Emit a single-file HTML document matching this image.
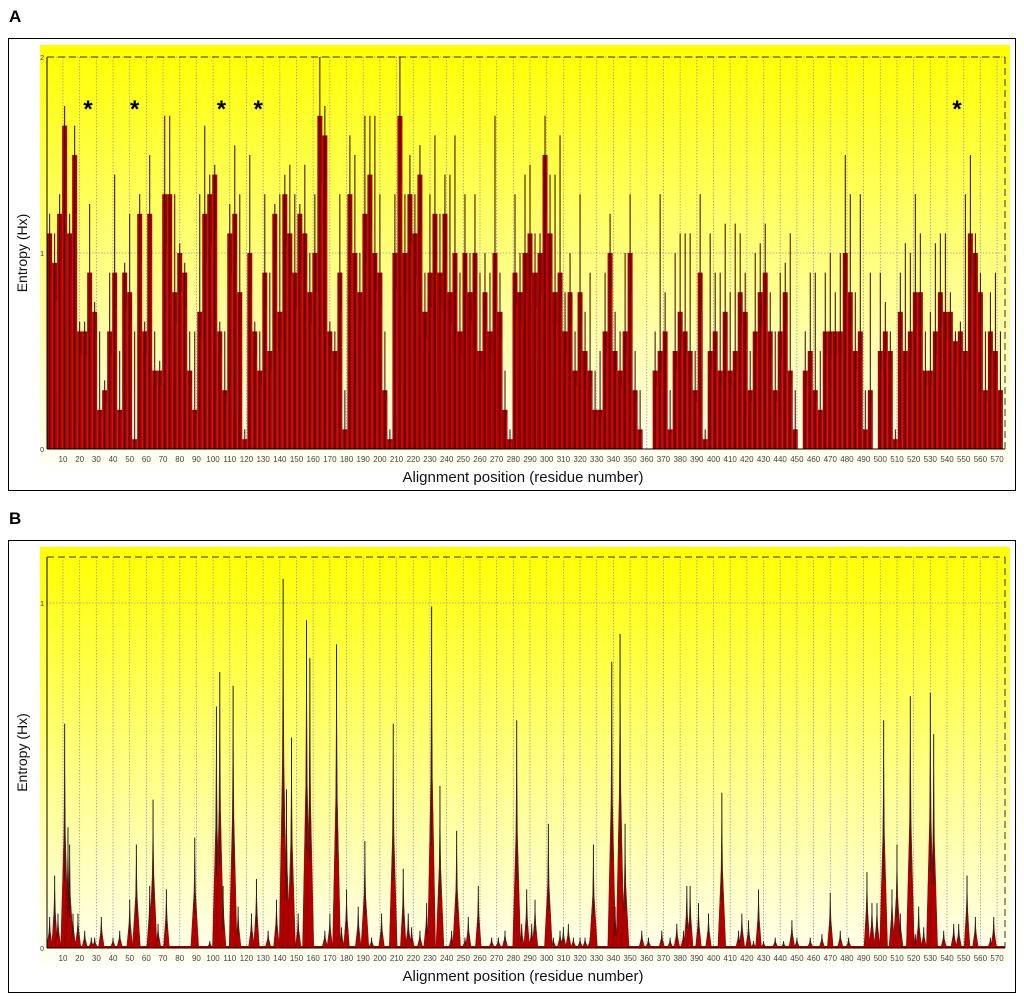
<!DOCTYPE html>
<html><head><meta charset="utf-8"><style>
html,body{margin:0;padding:0;background:#fff;}
svg{display:block;font-family:"Liberation Sans",sans-serif;}
</style></head><body>
<svg id="chart" width="1024" height="999" viewBox="0 0 1024 999">
<defs>
<linearGradient id="bg" x1="0" y1="0" x2="0" y2="1">
<stop offset="0" stop-color="#ffff00"/><stop offset="0.45" stop-color="#ffff70"/><stop offset="1" stop-color="#fffff4"/>
</linearGradient>
</defs>
</svg>
<script>
// Panel A: values per group of 3 residues (mean fill, peak spike)
const meanA=[1.1,0.95,1.2,1.65,1.1,1.5,0.6,0.6,0.9,0.7,0.2,0.3,0.6,0.9,0.2,0.9,0.8,0.05,1.2,0.6,1.2,0.4,0.4,1.3,1.3,0.8,1.0,0.9,0.4,0.2,0.7,1.2,1.3,1.4,0.6,0.3,1.1,1.2,0.8,0.05,1.0,0.6,0.4,0.9,0.5,1.2,0.7,1.3,1.1,0.9,1.2,1.1,0.8,1.0,1.7,1.6,0.6,0.5,0.9,0.1,1.3,1.0,0.8,1.2,1.4,1.0,0.9,0.3,0.05,1.0,1.7,1.0,1.3,1.1,1.4,0.7,0.9,1.2,0.9,1.2,0.8,1.0,0.6,1.0,0.8,1.0,0.5,0.8,0.6,1.0,0.7,0.2,0.05,0.9,0.8,1.0,1.1,0.9,1.0,1.5,1.1,0.8,0.9,0.6,0.8,0.4,0.8,0.5,0.4,0.2,0.2,0.6,1.0,0.5,0.4,0.6,1.0,0.3,0.1,0,0,0.4,0.5,0.6,0.1,0.5,0.7,0.6,0.5,0.3,0.9,0.05,0.5,0.6,0.4,0.7,0.4,0.5,0.8,0.7,0.3,0.6,0.8,0.9,0.6,0.3,0.6,0.8,0.4,0.1,0,0.4,0.5,0.3,0.2,0.6,0.6,0.6,0.6,1.0,0.8,0.5,0.6,0.1,0.3,0,0.5,0.6,0.5,0.05,0.7,0.5,0.6,0.8,0.8,0.4,0.4,0.6,0.8,0.7,0.7,0.55,0.6,0.5,1.1,1.0,0.8,0.3,0.6,0.5,0.3];
const peakA=[1.2,1.1,1.3,1.75,1.2,1.65,0.65,0.65,1.25,0.75,0.6,0.35,0.9,1.4,0.5,0.95,1.2,0.6,1.3,0.65,1.5,0.6,0.45,1.7,1.7,1.3,1.05,0.95,0.6,0.6,1.3,1.65,1.4,1.45,0.65,0.6,1.25,1.55,1.3,0.1,1.5,0.65,0.6,1.3,0.9,1.25,1.3,1.4,1.45,1.3,1.25,1.45,1.0,1.3,2.0,1.75,0.65,0.6,1.3,0.3,1.6,1.5,1.0,1.7,1.7,1.7,1.3,0.6,0.1,1.3,2.0,1.3,1.5,1.3,1.55,0.9,1.3,1.6,1.2,1.4,1.4,1.6,0.9,1.3,1.0,1.3,0.9,1.0,0.9,1.7,0.9,0.4,0.1,1.3,1.0,1.4,1.45,1.1,1.1,1.7,1.4,1.4,1.6,0.8,1.0,0.6,1.3,0.7,0.9,0.4,0.5,0.9,1.2,0.7,0.6,1.0,1.3,0.5,0.3,0,0,0.6,1.3,0.8,0.3,1.0,1.1,1.1,1.1,0.5,1.3,0.1,1.1,0.9,0.9,1.15,0.8,1.15,1.1,0.9,0.5,1.0,1.05,1.15,0.8,0.6,0.9,0.95,1.1,0.3,0,0.6,0.9,0.9,0.5,0.9,1.0,0.8,1.0,1.5,1.3,0.8,1.3,0.3,0.9,0,0.9,0.75,0.6,0.1,0.9,1.05,1.0,1.3,1.1,0.6,0.7,1.05,1.1,1.1,0.8,0.6,0.65,1.3,1.5,1.1,0.9,0.6,0.8,0.9,0.6];
// Panel B: spike residues and heights
const posB=[2,5,7,11,13,14,16,19,23,27,29,33,40,44,50,54,62,64,67,72,89,98,102,104,106,112,115,123,126,133,138,142,144,147,151,156,158,167,170,174,177,180,187,191,195,201,208,214,217,219,224,228,231,236,243,246,251,253,259,267,271,275,282,285,288,291,293,301,304,308,310,313,316,320,323,326,328,339,341,344,347,357,361,369,374,378,382,384,386,391,397,405,415,417,421,424,427,430,437,442,447,450,458,465,470,476,481,492,495,498,502,507,510,512,517,518,521,523,526,530,532,538,544,547,552,557,566,568];
const valB=[0.09,0.21,0.1,0.65,0.35,0.3,0.1,0.1,0.05,0.03,0.03,0.09,0.03,0.05,0.14,0.3,0.18,0.43,0.07,0.17,0.32,0.02,0.7,0.8,0.18,0.76,0.12,0.1,0.2,0.05,0.14,1.07,0.46,0.61,0.1,0.95,0.84,0.05,0.1,0.88,0.06,0.17,0.12,0.31,0.03,0.1,0.65,0.23,0.1,0.06,0.05,0.13,0.99,0.47,0.05,0.34,0.03,0.09,0.18,0.03,0.03,0.05,0.66,0.07,0.17,0.07,0.14,0.36,0.03,0.05,0.06,0.07,0.03,0.03,0.03,0.03,0.3,0.83,0.12,0.91,0.36,0.05,0.03,0.05,0.03,0.07,0.05,0.18,0.18,0.13,0.1,0.45,0.05,0.1,0.08,0.02,0.17,0.02,0.03,0.02,0.08,0.03,0.03,0.04,0.16,0.05,0.03,0.22,0.13,0.13,0.66,0.17,0.3,0.1,0.04,0.73,0.04,0.12,0.06,0.74,0.62,0.05,0.07,0.07,0.21,0.09,0.03,0.09];
const xTicks=[10,20,30,40,50,60,70,80,90,100,110,120,130,140,150,160,170,180,190,200,210,220,230,240,250,260,270,280,290,300,310,320,330,340,350,360,370,380,390,400,410,420,430,440,450,460,470,480,490,500,510,520,530,540,550,560,570];
const starsA=[25,53,105,127,546];

const NS='http://www.w3.org/2000/svg';
const svg=document.getElementById('chart');
function mk(tag,attrs,parent){const e=document.createElementNS(NS,tag);for(const k in attrs)e.setAttribute(k,attrs[k]);(parent||svg).appendChild(e);return e;}
const xs=r=>46.3+r*1.668;

function panel(o){
  const g=mk('g',{});
  
  
  const fr=mk('rect',{x:8.5,y:o.fy+0.5,width:1007,height:452,fill:'none',stroke:'#000','stroke-width':1},g);
  
  
  const bg=mk('rect',{x:40,y:o.fy+7,width:970,height:o.y0-o.fy+10,fill:'url(#bg)'},g);
  
  
  const ys=v=>o.y0-v*o.k;
  const grid=mk('g',{stroke:'#999','stroke-width':0.8,'stroke-dasharray':'1.5,1.5'},g);
  
  
  xTicks.forEach(t=>mk('line',{x1:xs(t),x2:xs(t),y1:o.top,y2:o.y0},grid));
  o.yt.forEach(v=>{if(v>0)mk('line',{x1:47,x2:1005,y1:ys(v),y2:ys(v)},grid);});
  const marks=mk('g',{},g);
  
  
  o.draw(marks,ys);
  const ax=mk('g',{stroke:'#000','stroke-width':1},g);
  
  
  mk('line',{x1:47,x2:47,y1:o.top,y2:o.y0},ax);
  mk('line',{x1:47,x2:1005,y1:o.y0,y2:o.y0},ax);
  mk('line',{x1:47,x2:1005,y1:o.top,y2:o.top,'stroke-dasharray':'7,4',stroke:'#333'},ax);
  mk('line',{x1:1005,x2:1005,y1:o.top,y2:o.y0,'stroke-dasharray':'7,4',stroke:'#333'},ax);
  const tl=mk('g',{'font-size':8,fill:'#444','text-anchor':'middle'},g);
  
  
  xTicks.forEach(t=>{const e=mk('text',{x:xs(t),y:o.y0+13},tl);e.textContent=t;});
  o.yt.forEach(v=>{const e=mk('text',{x:44,y:ys(v)+3,'font-size':7,'text-anchor':'end',fill:'#333'},g);e.textContent=v;
    
    });
  const xt=mk('text',{x:523,y:o.y0+33,'font-size':15,'text-anchor':'middle',fill:'#111'},g);
  xt.textContent='Alignment position (residue number)';
  
  
  const cy=(o.top+o.y0)/2;
  const yt=mk('text',{x:27,y:cy,'font-size':14,'text-anchor':'middle',fill:'#111',transform:`rotate(-90 27 ${cy})`},g);
  yt.textContent='Entropy (Hx)';
  
  
  const pl=mk('text',{x:9,y:o.fy-16,'font-size':17,'font-weight':'bold',fill:'#000'},g);
  pl.textContent=o.label;
  
  
  return ys;
}

panel({name:'panel-a',label:'A',fy:38,top:57,y0:449,k:196,yt:[0,1,2],draw:(g,ys)=>{
  meanA.forEach((v,i)=>{
    const r0=i*3+0.5,r1=i*3+3.5;
    if(v>0){const b=mk('rect',{x:xs(r0),y:ys(v),width:xs(r1)-xs(r0),height:ys(0)-ys(v),fill:'#a80000'},g);
      
      }
    if(peakA[i]>0){const c=xs(i*3+2);
      const p=mk('line',{x1:c,x2:c,y1:ys(peakA[i]),y2:ys(0),stroke:'#3a0000','stroke-width':1},g);
      
      
      const r=mk('line',{x1:c+1.5,x2:c+1.5,y1:ys(v*0.8),y2:ys(0),stroke:'#e00000','stroke-width':0.8},g);
      
      }
  });
  starsA.forEach(s=>{const t=mk('text',{x:xs(s),y:117,'font-size':24,'font-weight':'bold','text-anchor':'middle',fill:'#000'},g);t.textContent='*';
    
    });
}});

panel({name:'panel-b',label:'B',fy:540,top:557,y0:948,k:345,yt:[0,1],draw:(g,ys)=>{
  const base=mk('rect',{x:47,y:ys(0)-2,width:958,height:2,fill:'#a00000'},g);
  
  
  posB.forEach((p,i)=>{
    const v=valB[i],c=xs(p),w=v>0.25?4:3;
    const t=mk('polygon',{points:`${c-w},${ys(0)} ${c-0.8},${ys(v*0.5)} ${c},${ys(v*0.88)} ${c+0.8},${ys(v*0.5)} ${c+w},${ys(0)}`,fill:'#b00000',stroke:'#600','stroke-width':0.4},g);
    
    
    const l=mk('line',{x1:c,x2:c,y1:ys(v),y2:ys(v*0.3),stroke:'#222','stroke-width':1},g);
    
    
  });
}});
</script>
</body></html>
